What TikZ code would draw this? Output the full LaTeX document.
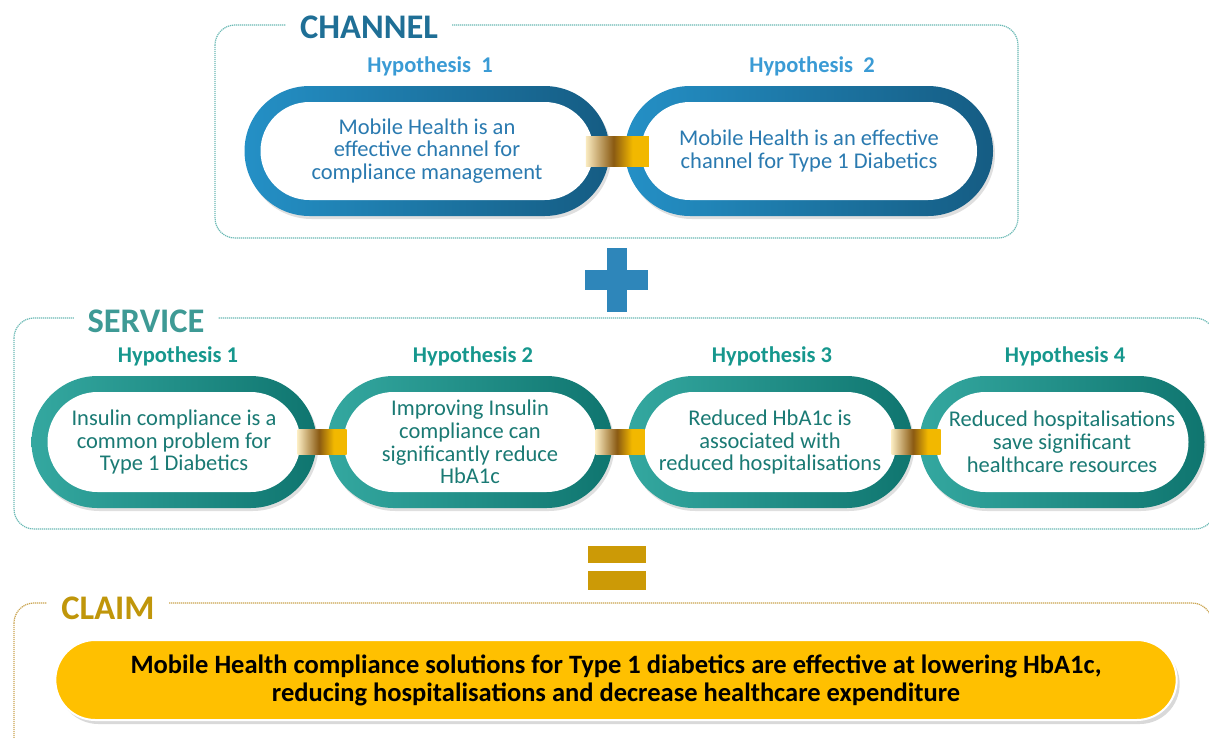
\documentclass[tikz,border=0pt]{standalone}
\usepackage{fontspec}
\setmainfont{Carlito}
\usetikzlibrary{shapes.misc,shadows,calc}

\definecolor{chanblue}{HTML}{1F6F96}
\definecolor{hypblue}{HTML}{3A9BD5}
\definecolor{textblue}{HTML}{2A7AB0}
\definecolor{ringbluelight}{HTML}{2490C6}
\definecolor{ringbluedark}{HTML}{155C83}
\definecolor{servteal}{HTML}{3E9A95}
\definecolor{hypteal}{HTML}{16978D}
\definecolor{textteal}{HTML}{1A7A74}
\definecolor{ringteallight}{HTML}{34A8A0}
\definecolor{ringtealdark}{HTML}{0F756F}
\definecolor{dotteal}{HTML}{6AB9B4}
\definecolor{claimgold}{HTML}{C0960A}
\definecolor{dotgold}{HTML}{C9A34E}
\definecolor{claimyellow}{HTML}{FFC000}
\definecolor{plusblue}{HTML}{2E86BA}
\definecolor{equalgold}{HTML}{CC9A06}
\definecolor{bandlight}{HTML}{FAEBC0}
\definecolor{banddark}{HTML}{8A5A12}
\definecolor{bandgold}{HTML}{F2B800}

\pgfdeclarehorizontalshading{goldband}{100bp}{color(0bp)=(bandlight); color(25bp)=(bandlight); color(47bp)=(banddark); color(62bp)=(bandgold); color(100bp)=(bandgold)}

\tikzset{
  dotframe/.style={rounded corners=20pt, line width=1.2pt, dash pattern=on 1.2pt off 0.8pt},
  frametitle/.style={fill=white, font=\fontsize{34.5}{40}\selectfont\bfseries, inner xsep=14pt, inner ysep=2pt},
  hyplabel/.style={font=\fontsize{22.5}{26}\selectfont\bfseries},
  ringtext/.style={font=\fontsize{22.5}{22.8}\selectfont, align=center},
  whitehole/.style={path picture={\fill[white, rounded corners=#1]
      ([shift={(16pt,-16pt)}]path picture bounding box.north west) rectangle
      ([shift={(-16pt,16pt)}]path picture bounding box.south east);}},
  chanring/.style={rounded rectangle, ringtext, text=textblue, inner sep=0pt,
      minimum height=130pt, left color=ringbluelight, right color=ringbluedark,
      whitehole=49pt, drop shadow={opacity=0.25, shadow xshift=2pt, shadow yshift=-3pt}},
  servring/.style={rounded rectangle, ringtext, text=textteal, inner sep=0pt,
      minimum height=132pt, minimum width=285pt, left color=ringteallight, right color=ringtealdark,
      whitehole=50pt, drop shadow={opacity=0.25, shadow xshift=2pt, shadow yshift=-3pt}},
  band/.style={rectangle, shading=goldband, inner sep=0pt},
  claimpill/.style={rounded rectangle, fill=claimyellow, draw=white, line width=2pt,
      minimum width=1128pt, minimum height=80pt, align=center,
      font=\fontsize{26.5}{28}\selectfont\bfseries,
      drop shadow={opacity=0.3, shadow xshift=3pt, shadow yshift=-4pt}}
}

\begin{document}
\begin{tikzpicture}[x=1pt, y=-1pt]
    \useasboundingbox (0,0) rectangle (1209,737);
    \clip (0,0) rectangle (1209,737);

    \draw[dotframe, draw=dotteal] (215,25) rectangle (1018,238);
    \node[frametitle, text=chanblue] (chantitle) at (369,27) {CHANNEL};
    \node[hyplabel, text=hypblue] (chanhyp1) at (430,66) {Hypothesis\ \ 1};
    \node[hyplabel, text=hypblue] (chanhyp2) at (812,66) {Hypothesis\ \ 2};
    \node[chanring, minimum width=365pt] (chan1) at (427,151) {Mobile Health is an\\effective channel for\\compliance management};
    \node[chanring, minimum width=368pt] (chan2) at (809,151) {Mobile Health is an effective\\channel for Type 1 Diabetics};
    \node[band, minimum width=63pt, minimum height=30pt] (chanband) at ($(chan1.east)!0.5!(chan2.west)$) {};

    \fill[plusblue] (585,270) rectangle (648,290);
    \fill[plusblue] (607,248) rectangle (627,312);

    \draw[dotframe, draw=dotteal] (14,318) rectangle (1215,529);
    \node[frametitle, text=servteal] (servtitle) at (146,321) {SERVICE};
    \node[hyplabel, text=hypteal] (servhyp1) at (178,356) {Hypothesis 1};
    \node[hyplabel, text=hypteal] (servhyp2) at (473,356) {Hypothesis 2};
    \node[hyplabel, text=hypteal] (servhyp3) at (772,356) {Hypothesis 3};
    \node[hyplabel, text=hypteal] (servhyp4) at (1065,356) {Hypothesis 4};
    \node[servring] (serv1) at (174,442) {Insulin compliance is a\\common problem for\\Type 1 Diabetics};
    \node[servring] (serv2) at (470,442) {Improving Insulin\\compliance can\\significantly reduce\\HbA1c};
    \node[servring] (serv3) at (770,442) {Reduced HbA1c is\\associated with\\reduced hospitalisations};
    \node[servring] (serv4) at (1062,442) {Reduced hospitalisations\\save significant\\healthcare resources};
    \node[band, minimum width=49pt, minimum height=25pt] (servband1) at ($(serv1.east)!0.5!(serv2.west)$) {};
    \node[band, minimum width=49pt, minimum height=25pt] (servband2) at ($(serv2.east)!0.5!(serv3.west)$) {};
    \node[band, minimum width=49pt, minimum height=25pt] (servband3) at ($(serv3.east)!0.5!(serv4.west)$) {};

    \fill[equalgold] (588,546) rectangle (646,563);
    \fill[equalgold] (588,571) rectangle (646,590);

    \draw[dotframe, draw=dotgold] (14,603) rectangle (1212,770);
    \node[frametitle, text=claimgold] (claimtitle) at (108,608) {CLAIM};
    \node[claimpill] (claim) at (616,680) {Mobile Health compliance solutions for Type 1 diabetics are effective at lowering HbA1c,\\reducing hospitalisations and decrease healthcare expenditure};
\end{tikzpicture}
\end{document}
